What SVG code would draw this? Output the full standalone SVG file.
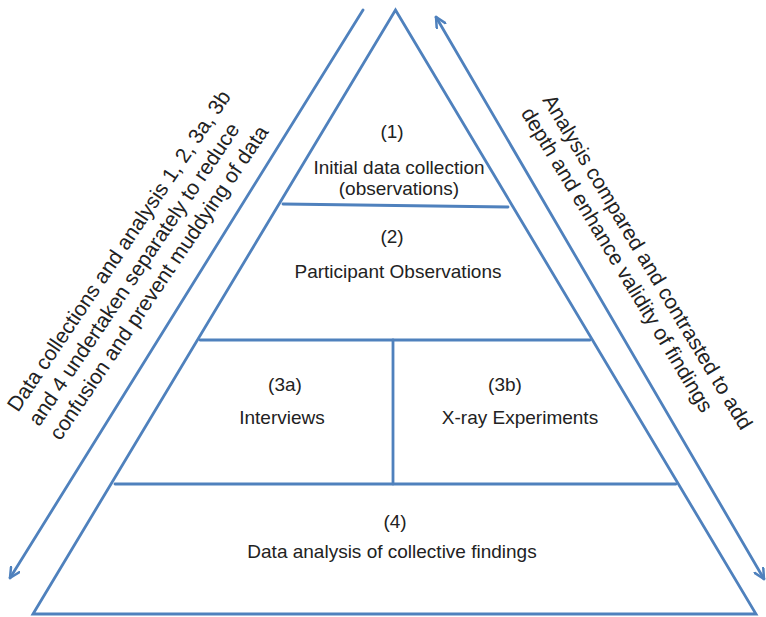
<svg xmlns="http://www.w3.org/2000/svg" width="766" height="617" viewBox="0 0 766 617">
<style>
.ln{stroke:#4f81bd;stroke-width:2.8;fill:none;stroke-linecap:round;stroke-linejoin:miter}
.t{font-family:"Liberation Sans",Arial,sans-serif;font-size:19px;fill:#222;text-anchor:middle}
.side{font-family:"Liberation Sans",Arial,sans-serif;font-size:21px;fill:#222}
</style>
<defs>
<marker id="ah" viewBox="0 0 12 12" refX="11" refY="6" markerWidth="12" markerHeight="12" markerUnits="userSpaceOnUse" orient="auto-start-reverse">
<path d="M1,1 L11,6 L1,11" fill="none" stroke="#4f81bd" stroke-width="2.5" stroke-linecap="round"/>
</marker>
</defs>
<rect width="766" height="617" fill="#fff"/>
<g id="pyramid">
<polygon class="ln" points="33,614 395.5,10 756,614"/>
</g>
<g id="tier1">
<line class="ln" x1="283" y1="204" x2="508" y2="207"/>
<text class="t" x="392" y="138">(1)</text>
<text class="t" x="399" y="174">Initial data collection</text>
<text class="t" x="399" y="195">(observations)</text>
</g>
<g id="tier2">
<line class="ln" x1="200" y1="340" x2="590" y2="340"/>
<text class="t" x="392" y="243">(2)</text>
<text class="t" x="398" y="278">Participant Observations</text>
</g>
<g id="tier3a">
<line class="ln" x1="393" y1="340" x2="393" y2="484"/>
<text class="t" x="285" y="391">(3a)</text>
<text class="t" x="282" y="424">Interviews</text>
</g>
<g id="tier3b">
<text class="t" x="505" y="391">(3b)</text>
<text class="t" x="520" y="424">X-ray Experiments</text>
</g>
<g id="tier4">
<line class="ln" x1="115" y1="484" x2="676" y2="484"/>
<text class="t" x="395" y="528">(4)</text>
<text class="t" x="392" y="558">Data analysis of collective findings</text>
</g>
<g id="connectors">
<path class="ln" d="M363,10 L10,578" marker-end="url(#ah)"/>
<path class="ln" d="M764,579 L436,17" marker-start="url(#ah)" marker-end="url(#ah)"/>
</g>
<g id="side-labels">
<text class="side" transform="translate(18,413) rotate(-56)"><tspan x="0" y="0">Data collections and analysis 1, 2, 3a, 3b</tspan><tspan x="0" y="25.5">and 4 undertaken separately to reduce</tspan><tspan x="0" y="51">confusion and prevent muddying of data</tspan></text>
<text class="side" transform="translate(542,100) rotate(59)"><tspan x="0" y="0">Analysis compared and contrasted to add</tspan><tspan x="0" y="25">depth and enhance validity of findings</tspan></text>
</g>
</svg>
